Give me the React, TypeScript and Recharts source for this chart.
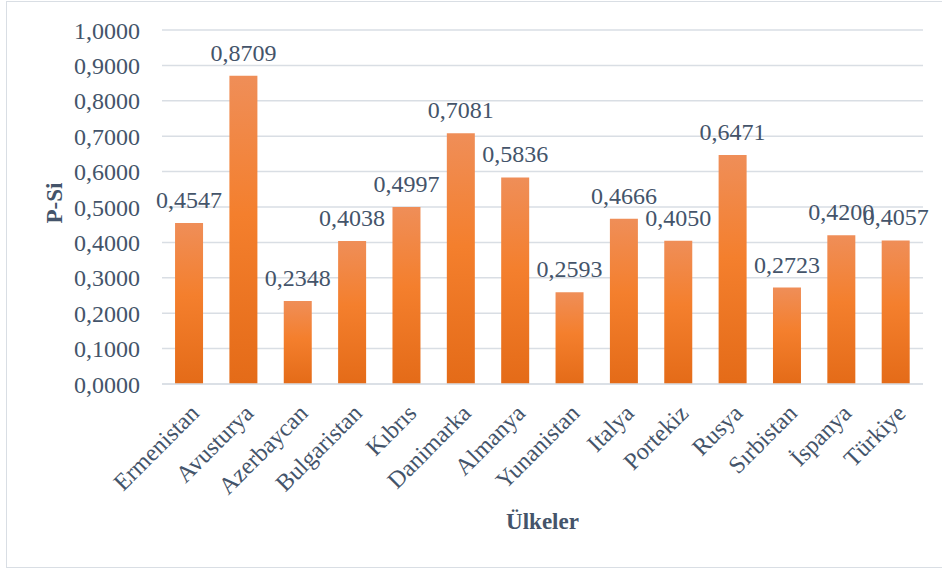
import React from 'react';
import { BarChart, Bar, XAxis, YAxis, CartesianGrid, LabelList, Label } from 'recharts';

const countries = ['Ermenistan', 'Avusturya', 'Azerbaycan', 'Bulgaristan', 'Kıbrıs', 'Danimarka', 'Almanya', 'Yunanistan', 'Italya', 'Portekiz', 'Rusya', 'Sırbistan', 'İspanya', 'Türkiye'];
const psiValues = [0.4547, 0.8709, 0.2348, 0.4038, 0.4997, 0.7081, 0.5836, 0.2593, 0.4666, 0.4050, 0.6471, 0.2723, 0.4200, 0.4057];
const yTicks = [0, 0.1, 0.2, 0.3, 0.4, 0.5, 0.6, 0.7, 0.8, 0.9, 1.0];

const data = countries.map((c, i) => ({ name: c, value: psiValues[i] }));

const FONT = '"Liberation Serif", "Times New Roman", serif';
const TEXT = '#44546A';
const GRID = '#D9DEE4';

const fmt = (v: number) => v.toFixed(4).replace('.', ',');

const XTick = (props: any) => {
  const { x, y, payload } = props;
  return (
    <g transform={`translate(${x},${y})`}>
      <text x={0} y={0} dx={-8} dy={24} textAnchor="end" transform="rotate(-45)" fill={TEXT} fontSize={24} fontFamily={FONT}>
        {payload.value}
      </text>
    </g>
  );
};

export default function App() {
  return (
    <div style={{ position: 'absolute', left: 0, top: 0, width: 942, height: 569, background: '#fff' }}>
      <div style={{ position: 'absolute', left: 6, top: 1, width: 940, height: 567, border: '1.5px solid #D9DEE4', boxSizing: 'border-box' }} />
      <BarChart
        width={942}
        height={569}
        data={data}
        margin={{ top: 30, right: 19, bottom: 35, left: 10 }}
        barCategoryGap="24%"
        style={{ fontFamily: FONT }}
      >
        <defs>
          <linearGradient id="barGrad" x1="0" y1="0" x2="0" y2="1">
            <stop offset="0%" stopColor="#EF8E58" />
            <stop offset="45%" stopColor="#F47F2D" />
            <stop offset="100%" stopColor="#E46B18" />
          </linearGradient>
        </defs>
        <CartesianGrid vertical={false} stroke={GRID} strokeWidth={1.5} />
        <XAxis
          dataKey="name"
          interval={0}
          height={150}
          tick={<XTick />}
          tickLine={false}
          axisLine={{ stroke: GRID, strokeWidth: 1.5 }}
        >
          <Label
            content={(p: any) => {
              const vb = p.viewBox;
              return (
                <text x={vb.x + vb.width / 2} y={vb.y + vb.height - 5} textAnchor="middle" fill={TEXT} fontSize={23} fontWeight="bold" fontFamily={FONT}>
                  Ülkeler
                </text>
              );
            }}
          />
        </XAxis>
        <YAxis
          width={152}
          domain={[0, 1]}
          ticks={yTicks}
          tickFormatter={fmt}
          axisLine={false}
          tickLine={false}
          tickMargin={16}
          tick={{ fill: TEXT, fontSize: 24, fontFamily: FONT }}
        >
          <Label
            content={(p: any) => {
              const vb = p.viewBox;
              const cx = vb.x + 44;
              const cy = vb.y + vb.height / 2 - 4;
              return (
                <text x={cx} y={cy} transform={`rotate(-90, ${cx}, ${cy})`} textAnchor="middle" dominantBaseline="central" fill={TEXT} fontSize={23} fontWeight="bold" fontFamily={FONT}>
                  P-Si
                </text>
              );
            }}
          />
        </YAxis>
        <Bar dataKey="value" fill="url(#barGrad)" isAnimationActive={false}>
          <LabelList dataKey="value" position="top" offset={15} formatter={(v: any) => fmt(Number(v))} fill={TEXT} fontSize={24} fontFamily={FONT} />
        </Bar>
      </BarChart>
    </div>
  );
}
